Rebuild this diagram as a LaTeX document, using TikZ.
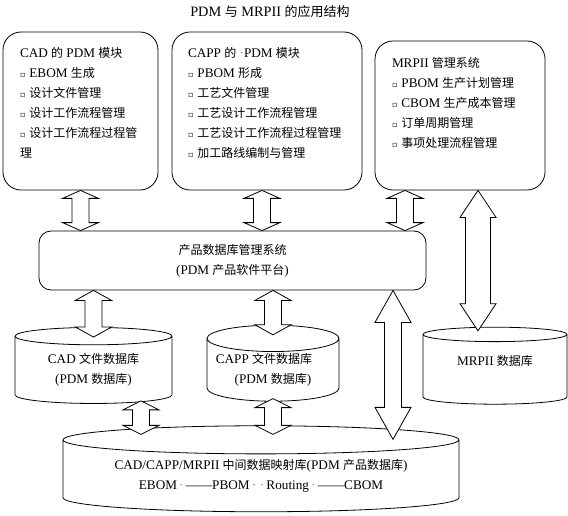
\documentclass[tikz,border=0pt]{standalone}
\usepackage{fontspec}
\setmainfont{Liberation Serif}[Scale=1.1]
\newfontfamily\zh{Noto Sans CJK SC}
\newfontfamily\sym{DejaVu Sans}
\usetikzlibrary{positioning,shapes.geometric,calc}

\newcommand\bul{{\sym\fontsize{8}{8}\selectfont ▫}\hspace{4pt}}
\newcommand\gdot{{\color{gray}·}}

\begin{document}
\begin{tikzpicture}[
    x=1pt, y=-1pt,
    line width=0.8pt,
    font=\fontsize{12}{20}\selectfont,
    module/.style={rectangle, rounded corners=18pt, draw, inner sep=0pt},
    modtext/.style={align=left, inner sep=0pt},
    platform/.style={rectangle, rounded corners=12pt, draw, minimum width=387pt, minimum height=59pt, align=center, inner sep=0pt},
    store/.style={cylinder, shape border rotate=90, draw, align=center, inner sep=0pt},
    head len/.store in=\headlen, head half/.store in=\headhalf, shaft half/.store in=\shafthalf,
    head len=8pt, head half=18pt, shaft half=8.5pt,
    fat arrow/.style={draw, fill=white, to path={let \p1=(\tikztostart), \p2=(\tikztotarget) in
      (\x1,\y1) -- (\x1+\headhalf,\y1-\headlen) -- (\x1+\shafthalf,\y1-\headlen) -- (\x1+\shafthalf,\y2+\headlen)
      -- (\x1+\headhalf,\y2+\headlen) -- (\x1,\y2) -- (\x1-\headhalf,\y2+\headlen) -- (\x1-\shafthalf,\y2+\headlen)
      -- (\x1-\shafthalf,\y1-\headlen) -- (\x1-\headhalf,\y1-\headlen) -- cycle}}
]
  \useasboundingbox (0,0) rectangle (568,516);

  \node[font=\fontsize{13}{16}\selectfont] (title) at (270,12) {PDM {\zh 与} MRPII {\zh 的应用结构}};

  % module boxes
  \node[module, minimum width=155pt, minimum height=158pt] (cad) at (80.5,111) {};
  \node[module, minimum width=190pt, minimum height=158pt] (capp) at (267,111) {};
  \node[module, minimum width=170pt, minimum height=149pt] (mrp) at (460,115.5) {};

  \node[modtext] (cadtxt) [below right=15.5pt and 17pt of cad.north west] {%
    CAD {\zh 的} PDM {\zh 模块}\\
    \bul EBOM {\zh 生成}\\
    \bul{\zh 设计文件管理}\\
    \bul{\zh 设计工作流程管理}\\
    \bul{\zh 设计工作流程过程管}\\
    {\zh 理}};
  \node[modtext] (capptxt) [below right=15.5pt and 16pt of capp.north west] {%
    CAPP {\zh 的} \gdot PDM {\zh 模块}\\
    \bul PBOM {\zh 形成}\\
    \bul{\zh 工艺文件管理}\\
    \bul{\zh 工艺设计工作流程管理}\\
    \bul{\zh 工艺设计工作流程过程管理}\\
    \bul{\zh 加工路线编制与管理}};
  \node[modtext] (mrptxt) [below right=16.5pt and 17pt of mrp.north west] {%
    MRPII {\zh 管理系统}\\
    \bul PBOM {\zh 生产计划管理}\\
    \bul CBOM {\zh 生产成本管理}\\
    \bul{\zh 订单周期管理}\\
    \bul{\zh 事项处理流程管理}};

  % platform
  \node[platform] (pdm) at (232.5,260.5) {{\zh 产品数据库管理系统}\\(PDM {\zh 产品软件平台})};

  % databases
  \node[store, minimum width=157pt, minimum height=76pt, aspect=0.19] (caddb) at (93.5,370)
    {CAD {\zh 文件数据库}\\(PDM {\zh 数据库})};
  \node[store, minimum width=132pt, minimum height=76pt, aspect=0.23] (cappdb) at (273,370)
    {CAPP {\zh 文件数据库}\hspace*{18pt}\\(PDM {\zh 数据库})};
  \node[store, minimum width=144pt, minimum height=77pt, aspect=0.19] (mrpdb) at (495,369.5)
    {MRPII {\zh 数据库}\\[-2pt]};
  \node[store, minimum width=396pt, minimum height=86pt, aspect=0.096] (mapdb) at (261,476)
    {CAD/CAPP/MRPII {\zh 中间数据映射库}(PDM {\zh 产品数据库})\\
     EBOM\,\gdot\,——PBOM\,\gdot\;\gdot\,Routing\,\gdot\,——CBOM};

  % connectors
  \draw[fat arrow] (cad.south) to (cad.south |- pdm.north);
  \draw[fat arrow] ([xshift=-5pt]capp.south) to ([xshift=-5pt]capp.south |- pdm.north);
  \draw[fat arrow] ([xshift=-55pt]mrp.south) to ([xshift=-55pt]mrp.south |- pdm.north);
  \draw[fat arrow, head len=27pt, shaft half=12.5pt] ([xshift=18pt]mrp.south) to ([xshift=18pt,yshift=-4pt]mrp.south |- mrpdb.north);
  \draw[fat arrow, head len=10pt] (pdm.south -| caddb.north) to ([yshift=-10pt]caddb.north);
  \draw[fat arrow, head len=10pt] (pdm.south -| cappdb.north) to ([yshift=-10pt]cappdb.north);
  \draw[fat arrow, head len=32pt] ([xshift=160.5pt]pdm.south) to ([xshift=160.5pt,yshift=-14pt]pdm.south |- mapdb.north);
  \draw[fat arrow, head len=9pt] ([xshift=47.5pt,yshift=3pt]caddb.south) to ([xshift=47.5pt,yshift=-9pt]caddb.south |- mapdb.north);
  \draw[fat arrow, head len=9pt] ([yshift=3pt]cappdb.south) to ([yshift=-9pt]cappdb.south |- mapdb.north);
\end{tikzpicture}
\end{document}
